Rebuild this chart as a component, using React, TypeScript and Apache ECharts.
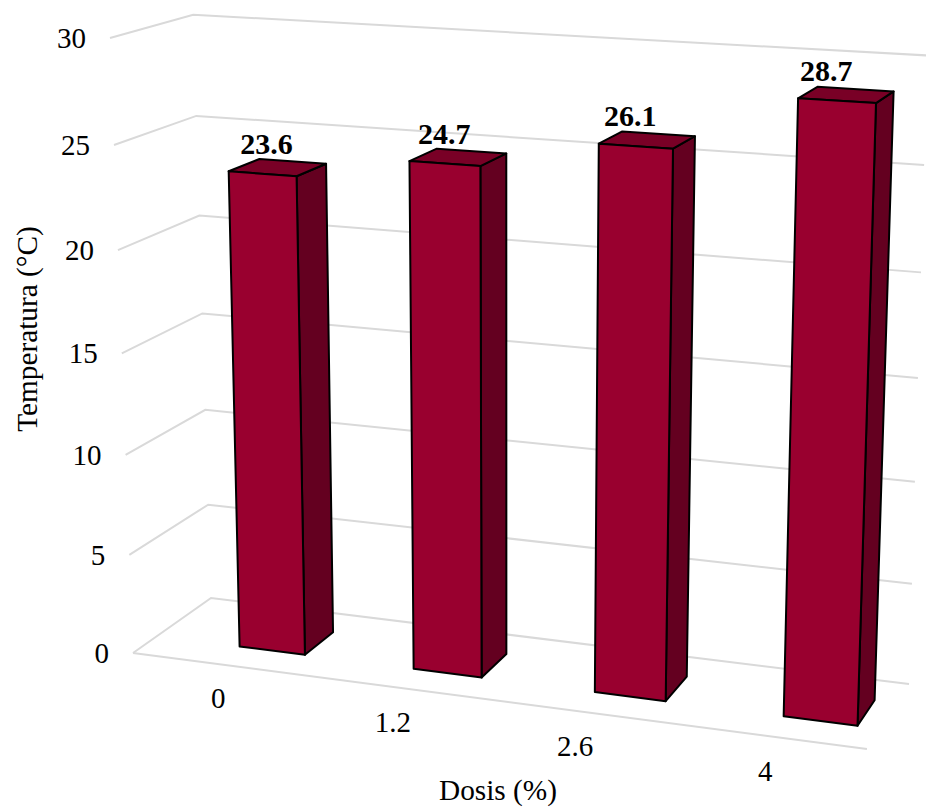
import React, { useEffect, useRef } from "react";
import * as echarts from "echarts";

// Chart contents
const doseLabels = ["0", "1.2", "2.6", "4"];
const temperatures = [23.6, 24.7, 26.1, 28.7];
const valueTicks = [0, 5, 10, 15, 20, 25, 30];
const yAxisTitle = "Temperatura (°C)";
const xAxisTitle = "Dosis (%)";

const WIDTH = 926;
const HEIGHT = 808;
const VALUE_MAX = 30;
// Category index range spanned by the floor of the 3D box
const INDEX_MIN = -0.677;
const INDEX_MAX = 3.305;

const FONT = "'Liberation Serif', 'Times New Roman', serif";
const TICK_FONT_SIZE = 29;
const VALUE_FONT_SIZE = 30;
const TITLE_FONT_SIZE = 29.3;
const GRID_COLOR = "#d9d9d9";
const FRONT_COLOR = "#99002f";
const SIDE_COLOR = "#640020";
const TOP_COLOR = "#790026";

// Perspective camera: homogeneous images of the box axes.
// (u: along the categories, w: depth, t: height, each 0..1)
const ORIGIN = [133, 653, 1];
const U_AXIS = [665.2, 36.6, -0.0793];
const W_AXIS = [89.9, -21.3, 0.0563];
const T_AXIS = [-28.5, -616.9, -0.05];

const project = (u: number, w: number, t: number): number[] => {
  const h = [0, 1, 2].map(
    (k) => ORIGIN[k] + u * U_AXIS[k] + w * W_AXIS[k] + t * T_AXIS[k]
  );
  return [h[0] / h[2], h[1] / h[2]];
};

// Reads a data point through the hidden cartesian grid, giving box coordinates.
const toBox = (api: any, index: number, value: number) => {
  const p = api.coord([index, value]);
  return { u: p[0] / WIDTH, t: (HEIGHT - p[1]) / HEIGHT };
};

const BAR_HALF = 0.19;
const BAR_FRONT = 0.3;
const BAR_BACK = 0.695;
// Columns lean a little further right with height than the wall edges do
const BAR_LEAN = 3.2;

const renderGridLine = (_: any, api: any) => {
  const { t } = toBox(api, INDEX_MIN, api.value(1));
  const style = { stroke: GRID_COLOR, lineWidth: 2, fill: "none" };
  const children: any[] = [
    {
      type: "polyline",
      shape: { points: [project(0, 0, t), project(0, 1, t), project(1, 1, t)] },
      style,
    },
  ];
  if (t === 0) {
    children.push({
      type: "polyline",
      shape: { points: [project(0, 0, 0), project(1, 0, 0)] },
      style,
    });
  }
  return { type: "group", children };
};

const renderBar = (_: any, api: any) => {
  const i = api.value(0);
  const v = api.value(1);
  const { u: u0, t } = toBox(api, i - BAR_HALF, v);
  const { u: u1 } = toBox(api, i + BAR_HALF, v);
  const p = (u: number, w: number, h: number) => {
    const c = project(u, w, h);
    return [c[0] + BAR_LEAN * h, c[1]];
  };
  const line = { stroke: "#000", lineWidth: 2, lineJoin: "round" };
  return {
    type: "group",
    children: [
      {
        type: "polygon",
        shape: {
          points: [p(u1, BAR_FRONT, 0), p(u1, BAR_BACK, 0), p(u1, BAR_BACK, t), p(u1, BAR_FRONT, t)],
        },
        style: { fill: SIDE_COLOR, ...line },
      },
      {
        type: "polygon",
        shape: {
          points: [p(u0, BAR_FRONT, t), p(u1, BAR_FRONT, t), p(u1, BAR_BACK, t), p(u0, BAR_BACK, t)],
        },
        style: { fill: TOP_COLOR, ...line },
      },
      {
        type: "polygon",
        shape: {
          points: [p(u0, BAR_FRONT, 0), p(u1, BAR_FRONT, 0), p(u1, BAR_FRONT, t), p(u0, BAR_FRONT, t)],
        },
        style: { fill: FRONT_COLOR, ...line },
      },
    ],
  };
};

const textEl = (text: string, x: number, y: number, extra: any = {}) => ({
  type: "text",
  x,
  y,
  style: {
    text,
    fill: "#000",
    fontFamily: FONT,
    fontSize: TICK_FONT_SIZE,
    textAlign: "center",
    textVerticalAlign: "middle",
    ...extra,
  },
});

const renderValueLabel = (_: any, api: any) => {
  const i = api.value(0);
  const v = api.value(1);
  const { u, t } = toBox(api, i, v);
  const c = project(u, 0.5, t);
  return textEl(v.toFixed(1), c[0] - 7 - 11 * u, c[1] - 24, {
    fontWeight: "bold",
    fontSize: VALUE_FONT_SIZE,
  });
};

const renderDoseLabel = (_: any, api: any) => {
  const i = api.value(0);
  const { u } = toBox(api, i, 0);
  const c = project(u, 0, 0);
  return textEl(doseLabels[i], c[0] - 29 - 13 * u, c[1] + 30);
};

const renderTickLabel = (_: any, api: any) => {
  const v = api.value(1);
  const { t } = toBox(api, INDEX_MIN, v);
  const c = project(0, 0, t);
  return textEl(String(v), c[0] - 24, c[1], { textAlign: "right" });
};

const series = (name: string, data: number[][], renderItem: any, z: number) => ({
  type: "custom",
  name,
  coordinateSystem: "cartesian2d",
  data,
  renderItem,
  z,
  silent: true,
  clip: false,
});

const titleStyle = (text: string) => ({
  text,
  fill: "#000",
  fontFamily: FONT,
  fontSize: TITLE_FONT_SIZE,
  textAlign: "center",
  textVerticalAlign: "middle",
});

export default function App() {
  const ref = useRef<HTMLDivElement>(null);

  useEffect(() => {
    const chart = echarts.init(ref.current!, null, { renderer: "svg" });
    const barData = temperatures.map((v, i) => [i, v]);
    const tickData = valueTicks.map((v) => [INDEX_MIN, v]);
    chart.setOption({
      animation: false,
      backgroundColor: "#fff",
      grid: { left: 0, top: 0, width: WIDTH, height: HEIGHT, show: false },
      xAxis: { type: "value", min: INDEX_MIN, max: INDEX_MAX, show: false },
      yAxis: { type: "value", min: 0, max: VALUE_MAX, interval: 5, show: false },
      series: [
        series("grid", tickData, renderGridLine, 1),
        series("Temperatura", barData, renderBar, 2),
        series("values", barData, renderValueLabel, 3),
        series("doses", barData, renderDoseLabel, 3),
        series("ticks", tickData, renderTickLabel, 3),
      ],
      graphic: [
        { type: "text", x: 27, y: 329, rotation: Math.PI / 2, style: titleStyle(yAxisTitle) },
        { type: "text", x: 498, y: 790, style: titleStyle(xAxisTitle) },
      ],
    });
    return () => chart.dispose();
  }, []);

  return (
    <div
      ref={ref}
      style={{ position: "fixed", left: 0, top: 0, width: WIDTH, height: HEIGHT }}
    />
  );
}
